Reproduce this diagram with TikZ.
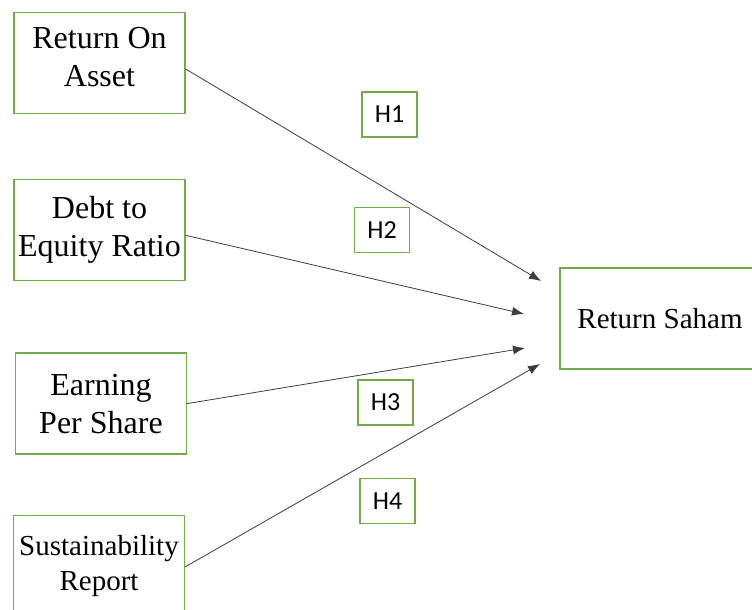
\documentclass[tikz,border=0pt]{standalone}
\usepackage{fontspec}
\setmainfont{Liberation Serif}
\newfontfamily\hfont{Carlito}
\usepackage{tikz}
\usetikzlibrary{arrows.meta,positioning}
\definecolor{boxgreen}{RGB}{112,173,71}
\definecolor{linegray}{RGB}{60,60,60}
\tikzset{
    vt/.style={ % variable boxes
        rectangle,
        fill = white,
        draw=boxgreen,
        line width=1.3pt,
        text centered,
        align=center,
        minimum width=171pt,
        minimum height=101pt,
        inner sep=0pt,
        font=\fontsize{32}{38}\selectfont
        },
    vts/.style={ % smaller text
        vt,
        font=\fontsize{29}{35}\selectfont
        },
    ht/.style={ % hypothesis boxes
        rectangle,
        fill = white,
        draw=boxgreen,
        line width=1.3pt,
        minimum width=55pt,
        minimum height=45pt,
        inner sep=0pt,
        font=\hfont\fontsize{26}{30}\selectfont
        },
    arrout/.style={
        draw=linegray,
        line width=0.8pt,
        -{Latex[length=12pt,width=9pt]}
        }
}
\begin{document}
\begin{tikzpicture}[x=1pt,y=-1pt]
		\useasboundingbox (0,0) rectangle (752,610);
		
		%%%%% node n1
		\node[vt] (n1) at (99.5,63) {Return On\\Asset\vphantom{g}\raisebox{-12pt}{}};
		
		%%%%% node n2
		\node[vt,below=65pt of n1] (n2) {Debt to\\Equity Ratio};
		
		%%%%% node n3
		\node[vt,below=71pt of n2,xshift=1.5pt] (n3) {Earning\\Per Share};
		
		%%%%% node n4
		\node[vts,below=60pt of n3,xshift=-2pt] (n4) {Sustainability\\Report};
		
		%%%%% node n5
		\node[vts,minimum width=200pt] (n5) at (660,318.5) {Return Saham};
		
		%%%%% arrow ends
		\coordinate (t1) at (541,281);
		\coordinate (t2) at (524,314);
		\coordinate (t3) at (525,348);
		\coordinate (t4) at (540,364);
		
		%%%%% edges
		\draw[arrout] ([yshift=-6pt]n1.east) -- (t1);
		\draw[arrout] ([yshift=-5pt]n2.east) -- (t2);
		\draw[arrout] (n3.east) -- (t3);
		\draw[arrout] ([yshift=-1pt]n4.east) -- (t4);
		
		%%%%% hypothesis labels
		\node[ht] (h1) at (389.5,114.5) {H1};
		\node[ht] (h2) at (382,230) {H2};
		\node[ht] (h3) at (385.5,402.5) {H3};
		\node[ht] (h4) at (387.5,501) {H4};
\end{tikzpicture}
\end{document}
